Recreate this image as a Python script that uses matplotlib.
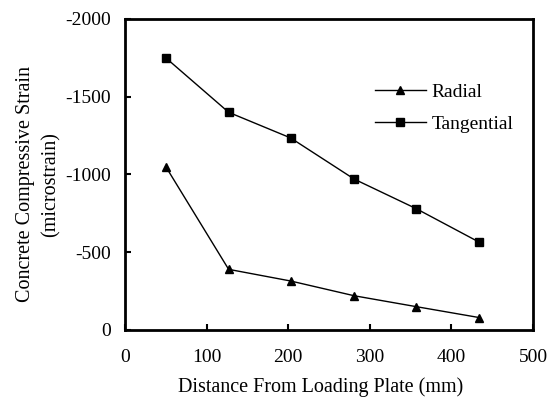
import matplotlib
matplotlib.use("Agg")
import matplotlib.pyplot as plt

# strain readings along the distance from the loading plate
distance = [50, 127, 203, 281, 357, 434]
radial = [-1050, -390, -315, -220, -150, -80]
tangential = [-1750, -1400, -1235, -970, -780, -565]

x_ticks = [0, 100, 200, 300, 400, 500]
y_ticks = [0, -500, -1000, -1500, -2000]

plt.rcParams['font.family'] = ['Liberation Serif', 'DejaVu Serif']
plt.rcParams['axes.unicode_minus'] = False

fig = plt.figure(figsize=(5.5, 3.98), dpi=100)
ax = fig.add_axes([0.2273, 0.1709, 0.969 - 0.2273, 0.9523 - 0.1709])

ax.plot(distance, radial, color='black', linewidth=1, marker='^', markersize=5.5, label='Radial')
ax.plot(distance, tangential, color='black', linewidth=1, marker='s', markersize=6, label='Tangential')

ax.set_xlim(0, 500)
ax.set_ylim(0, -2000)
ax.set_xticks(x_ticks)
ax.set_yticks(y_ticks)
ax.tick_params(direction='in', length=4, width=1.5, labelsize=14)
ax.tick_params(axis='x', pad=14)
ax.tick_params(axis='y', pad=10)

for s in ax.spines.values():
    s.set_linewidth(2)

ax.set_xlabel('Distance From Loading Plate (mm)', fontsize=14.5)
ax.set_ylabel('Concrete Compressive Strain\n(microstrain)', fontsize=14.5, linespacing=1.45)
ax.xaxis.set_label_coords(0.48, -0.152)
ax.yaxis.set_label_coords(-0.158, 0.468)

ax.legend(loc='upper left', bbox_to_anchor=(0.57, 0.85), frameon=False, fontsize=14,
          handlelength=2.6, handletextpad=0.3, labelspacing=0.75)

fig.savefig('out.png', dpi=100)
